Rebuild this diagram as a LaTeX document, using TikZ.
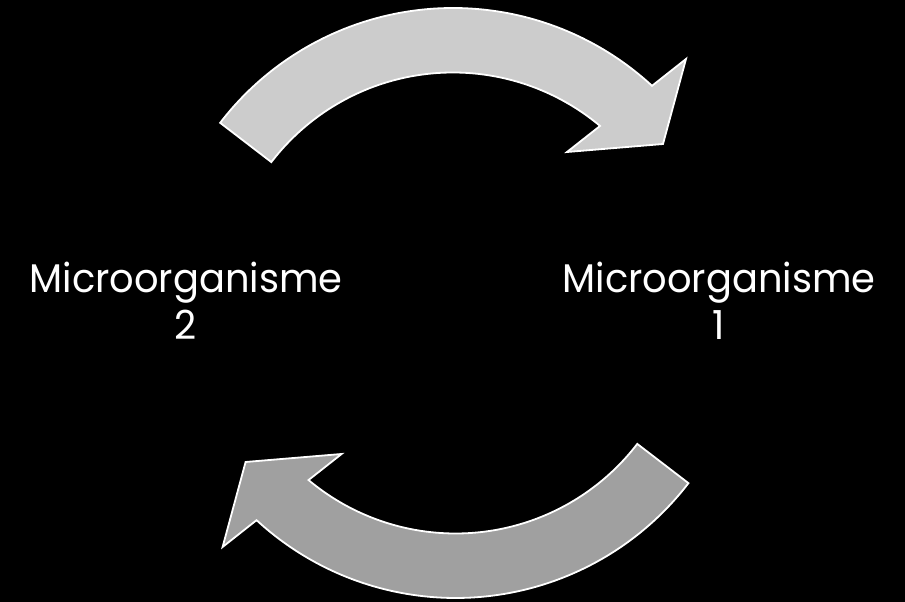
\documentclass[tikz,border=0pt]{standalone}
\usepackage{fontspec}
\setmainfont{Poppins}[FakeStretch=0.96]
\definecolor{toparrowfill}{HTML}{CCCCCC}
\definecolor{botarrowfill}{HTML}{A0A0A0}
\begin{document}
\begin{tikzpicture}[x=1pt,y=1pt,
  arrowshape/.style={draw=white, line width=1.8pt, line join=miter},
  lbl/.style={text=white, align=center, inner sep=0pt, font=\fontsize{40}{47}\selectfont}]
\fill[black] (0,0) rectangle (905,602);
\useasboundingbox (0,0) rectangle (905,602);
% top arrow
\draw[arrowshape, fill=toparrowfill]
  ([shift={(453,300.5)}]142.5:293.5) arc[start angle=142.5, end angle=47.3, radius=293.5]
  -- (686,543) -- (663,458) -- (567,450)
  -- ([shift={(453,300.5)}]50.05:229) arc[start angle=50.05, end angle=142.5, radius=229] -- cycle;
% bottom arrow (point reflection of the top one)
\begin{scope}[rotate around={180:(454.3,299)}]
\draw[arrowshape, fill=botarrowfill]
  ([shift={(453,300.5)}]142.5:293.5) arc[start angle=142.5, end angle=47.3, radius=293.5]
  -- (686,543) -- (663,458) -- (567,450)
  -- ([shift={(453,300.5)}]50.05:229) arc[start angle=50.05, end angle=142.5, radius=229] -- cycle;
\end{scope}
\node[lbl, anchor=north] (m2) at (186,340) {Microorganisme\\2};
\node[lbl, anchor=north] (m1) at (719,340) {Microorganisme\\1};
\end{tikzpicture}
\end{document}
